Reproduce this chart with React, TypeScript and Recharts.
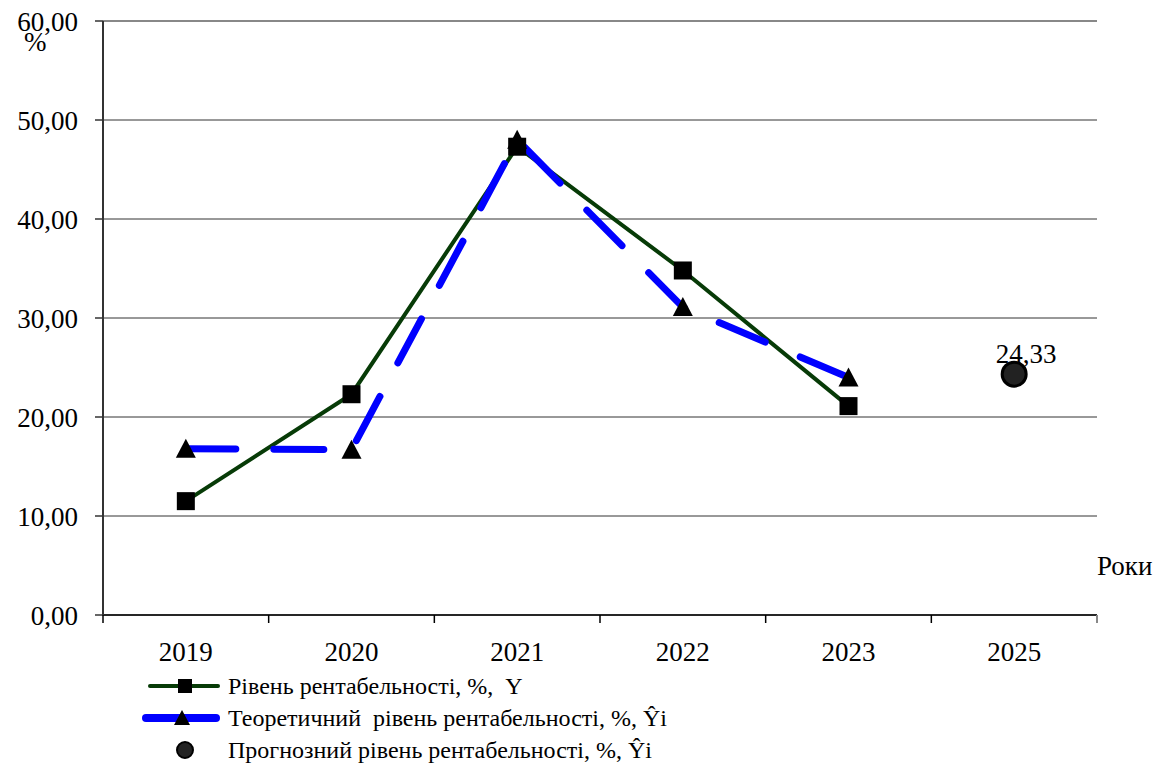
import {
  LineChart,
  Line,
  XAxis,
  YAxis,
  CartesianGrid,
  ReferenceLine,
  Legend,
  LabelList,
} from "recharts";

const years = ["2019", "2020", "2021", "2022", "2023", "2025"];
const actual = [11.5, 22.3, 47.3, 34.8, 21.1, null];
const theoretical = [16.8, 16.7, 48.0, 31.1, 24.0, null];
const forecast = [null, null, null, null, null, 24.33];
const yTicks = [0, 10, 20, 30, 40, 50, 60];

const legendLabels = [
  "Рівень рентабельності, %,  Y",
  "Теоретичний  рівень рентабельності, %, Ŷі",
  "Прогнозний рівень рентабельності, %, Ŷі",
];

const data = years.map((year, i) => ({
  year,
  actual: actual[i],
  theoretical: theoretical[i],
  forecast: forecast[i],
}));

const W = 1164;
const H = 766;
const LEFT = 103;
const RIGHT = 67;
const PLOT_W = W - LEFT - RIGHT;
const BAND = PLOT_W / years.length;
const FONT = '"Liberation Serif", "Times New Roman", serif';
const GREEN = "#073b07";
const BLUE = "#0000ff";

const fmt = (v: number) => v.toFixed(2).replace(".", ",");

function YearTick(props: any) {
  const { x, y, payload, index } = props;
  const last = index === years.length - 1;
  return (
    <g>
      <line x1={x - BAND / 2} x2={x - BAND / 2} y1={y} y2={y + 8} stroke="#000" strokeWidth={1.5} />
      {last && (
        <line x1={x + BAND / 2} x2={x + BAND / 2} y1={y} y2={y + 8} stroke="#888" strokeWidth={2} />
      )}
      <text x={x} y={y + 46} textAnchor="middle" fontSize={27} fontFamily={FONT} fill="#000">
        {payload.value}
      </text>
    </g>
  );
}

function SquareDot(props: any) {
  const { cx, cy, index } = props;
  if (cx == null || cy == null) return <g key={index} />;
  return <rect key={index} x={cx - 9} y={cy - 9} width={18} height={18} fill="#000" />;
}

function TriangleDot(props: any) {
  const { cx, cy, index } = props;
  if (cx == null || cy == null) return <g key={index} />;
  return (
    <polygon
      key={index}
      points={`${cx},${cy - 10} ${cx - 10},${cy + 9} ${cx + 10},${cy + 9}`}
      fill="#000"
    />
  );
}

function CircleDot(props: any) {
  const { cx, cy, index } = props;
  if (cx == null || cy == null) return <g key={index} />;
  return <circle key={index} cx={cx} cy={cy} r={12} fill="#222" stroke="#000" strokeWidth={3} />;
}

function ForecastLabel(props: any) {
  const { x, y, value } = props;
  if (value == null) return null;
  return (
    <text x={x + 12} y={y - 11} textAnchor="middle" fontSize={27} fontFamily={FONT} fill="#000">
      {fmt(Number(value))}
    </text>
  );
}

function LegendRows() {
  const icons = [
    <g>
      <line x1={10} x2={78} y1={16} y2={16} stroke={GREEN} strokeWidth={4} strokeLinecap="round" />
      <rect x={38} y={9} width={14} height={14} fill="#000" />
    </g>,
    <g>
      <line x1={6} x2={76} y1={16} y2={16} stroke={BLUE} strokeWidth={8} strokeLinecap="round" />
      <polygon points="42,8 34,23 50,23" fill="#000" />
    </g>,
    <circle cx={45} cy={16} r={8} fill="#222" stroke="#000" strokeWidth={2} />,
  ];
  return (
    <div style={{ fontFamily: FONT, fontSize: 24, color: "#000" }}>
      {legendLabels.map((label, i) => (
        <div key={label} style={{ display: "flex", alignItems: "center", height: 32 }}>
          <svg width={88} height={32}>
            {icons[i]}
          </svg>
          <span style={{ whiteSpace: "pre" }}>{label}</span>
        </div>
      ))}
    </div>
  );
}

export default function App() {
  return (
    <div style={{ position: "relative", width: W, height: H, background: "#fff" }}>
      <style>{"body{margin:0}"}</style>
      <LineChart
        width={W}
        height={H}
        data={data}
        margin={{ top: 21, right: RIGHT, bottom: 101, left: 0 }}
      >
        <CartesianGrid vertical={false} stroke="#333" strokeWidth={1} />
        <ReferenceLine y={60} stroke="#888" strokeWidth={2} />
        <XAxis
          dataKey="year"
          scale="band"
          height={50}
          interval={0}
          tickSize={0}
          tickMargin={0}
          tickLine={false}
          tick={<YearTick />}
          axisLine={{ stroke: "#000", strokeWidth: 1.5 }}
        />
        <YAxis
          width={LEFT}
          domain={[0, 60]}
          ticks={yTicks}
          interval={0}
          tickFormatter={fmt}
          tickSize={8}
          tickMargin={17}
          tick={{ fontSize: 27, fontFamily: FONT, fill: "#000" }}
          tickLine={{ stroke: "#333", strokeWidth: 1.5 }}
          axisLine={{ stroke: "#333", strokeWidth: 2 }}
        />
        <YAxis
          yAxisId="r"
          orientation="right"
          width={0}
          domain={[0, 60]}
          tick={false}
          tickLine={false}
          axisLine={{ stroke: "#888", strokeWidth: 2 }}
        />
        <Legend
          layout="vertical"
          align="center"
          verticalAlign="middle"
          content={<LegendRows />}
          wrapperStyle={{ left: 140, top: 670, width: 700 }}
        />
        <Line
          dataKey="actual"
          stroke={GREEN}
          strokeWidth={4}
          dot={<SquareDot />}
          activeDot={false}
          isAnimationActive={false}
        />
        <Line
          dataKey="theoretical"
          stroke={BLUE}
          strokeWidth={7}
          strokeDasharray="50 38"
          strokeLinecap="round"
          dot={<TriangleDot />}
          activeDot={false}
          isAnimationActive={false}
        />
        <Line
          dataKey="forecast"
          stroke="none"
          dot={<CircleDot />}
          activeDot={false}
          isAnimationActive={false}
        >
          <LabelList dataKey="forecast" content={<ForecastLabel />} />
        </Line>
      </LineChart>
      <div
        style={{
          position: "absolute",
          left: 24,
          top: 27,
          fontFamily: FONT,
          fontSize: 27,
          lineHeight: "30px",
        }}
      >
        %
      </div>
      <div
        style={{
          position: "absolute",
          left: 1097,
          top: 551,
          fontFamily: FONT,
          fontSize: 27,
          lineHeight: "30px",
        }}
      >
        Роки
      </div>
    </div>
  );
}
